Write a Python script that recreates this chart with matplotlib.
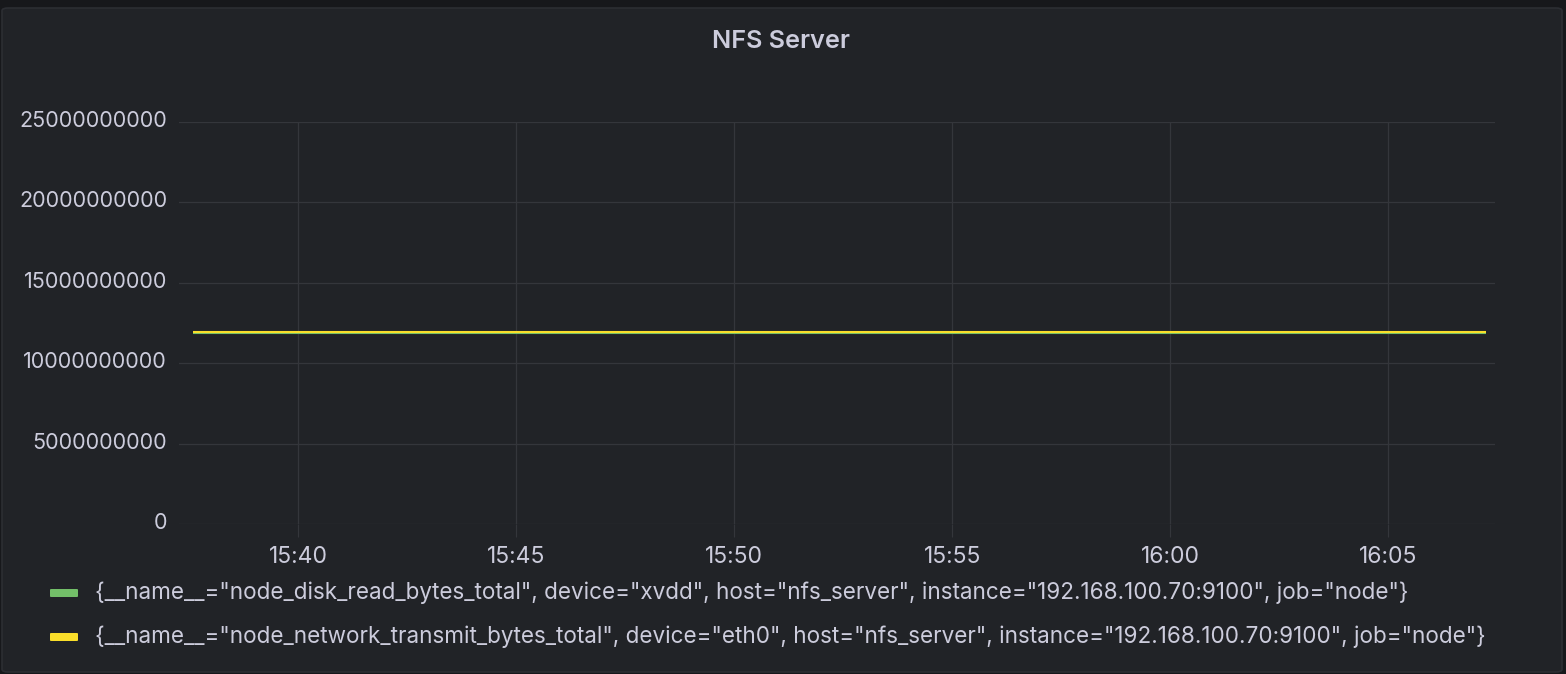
import matplotlib
matplotlib.use("Agg")
import matplotlib.pyplot as plt
import matplotlib.dates as mdates
import matplotlib.transforms as mtransforms
from matplotlib.patches import FancyBboxPatch
from datetime import datetime

# ---- data ----
title = "NFS Server"
series_labels = [
    '{__name__="node_disk_read_bytes_total", device="xvdd", host="nfs_server", instance="192.168.100.70:9100", job="node"}',
    '{__name__="node_network_transmit_bytes_total", device="eth0", host="nfs_server", instance="192.168.100.70:9100", job="node"}',
]
series_colors = ["#73bf69", "#fade2a"]
times = ["15:37:35", "15:45:00", "15:55:00", "16:05:00", "16:07:15"]
disk_read = [11.88e9, 11.88e9, 11.88e9, 11.88e9, 11.88e9]
net_transmit = [11.94e9, 11.94e9, 11.94e9, 11.94e9, 11.94e9]
y_ticks = [0, 5e9, 10e9, 15e9, 20e9, 25e9]
x_ticks = ["15:40", "15:45", "15:50", "15:55", "16:00", "16:05"]
x_range = ["15:37:16", "16:07:27"]

def t(s):
    parts = [int(p) for p in s.split(":")]
    while len(parts) < 3:
        parts.append(0)
    return datetime(2021, 1, 1, parts[0], parts[1], parts[2])

W, H = 1566, 674
BG = "#212327"
TXT = "#ccccdc"
GRID = "#34363b"

plt.rcParams["font.family"] = ["Inter", "DejaVu Sans"]
fig = plt.figure(figsize=(W / 100, H / 100), dpi=100)
fig.patch.set_facecolor("#17181b")
panel = FancyBboxPatch((2 / W, 2 / H), (W - 6) / W, (H - 10) / H,
                       boxstyle="round,pad=0,rounding_size=0.004",
                       transform=fig.transFigure, facecolor=BG,
                       edgecolor="#2c2e33", linewidth=1.2, zorder=-10)
fig.patches.append(panel)

ax = fig.add_axes([179 / W, 1 - 524 / H, (1495 - 179) / W, (524 - 122) / H])
ax.set_zorder(1)
ax.set_facecolor(BG)
xs = [t(s) for s in times]
ax.plot(xs, disk_read, color=series_colors[0], lw=1.5, solid_capstyle="butt", zorder=3)
ax.plot(xs, net_transmit, color=series_colors[1], lw=1.5, solid_capstyle="butt", zorder=4)

ax.set_xlim(t(x_range[0]), t(x_range[1]))
ax.set_ylim(0, 25e9)
ax.set_yticks(y_ticks)
ax.set_yticklabels([f"{int(v)}" for v in y_ticks])
ax.set_xticks([mdates.date2num(t(s)) for s in x_ticks])
ax.set_xticklabels(x_ticks)
for s in ax.spines.values():
    s.set_visible(False)
ax.set_axisbelow(True)
ax.grid(True, color=GRID, lw=0.9)
ax.tick_params(axis="y", length=0, pad=8.6, colors=TXT, labelsize=15.5)
ax.tick_params(axis="x", length=9, pad=7, colors=TXT, labelsize=16.5)
ax.tick_params(axis="x", color=GRID)

shift = mtransforms.ScaledTranslation(0, 3 / 100, fig.dpi_scale_trans)
for lbl in ax.get_yticklabels():
    lbl.set_transform(lbl.get_transform() + shift)

fig.text(781 / W, 1 - 41 / H, title, ha="center", va="center", color=TXT,
         fontsize=18.2, fontweight="semibold")

leg_y = [593, 637]
for lab, col, yy in zip(series_labels, series_colors, leg_y):
    fig.patches.append(FancyBboxPatch((50 / W, 1 - (yy + 4) / H), 28 / W, 8 / H,
                                      boxstyle="round,pad=0,rounding_size=0.001",
                                      transform=fig.transFigure, facecolor=col,
                                      edgecolor="none", zorder=2))
    fig.text(95 / W, 1 - yy / H, lab, ha="left", va="center", color=TXT, fontsize=16.2)

fig.savefig("out.png", dpi=100, facecolor=fig.get_facecolor())
